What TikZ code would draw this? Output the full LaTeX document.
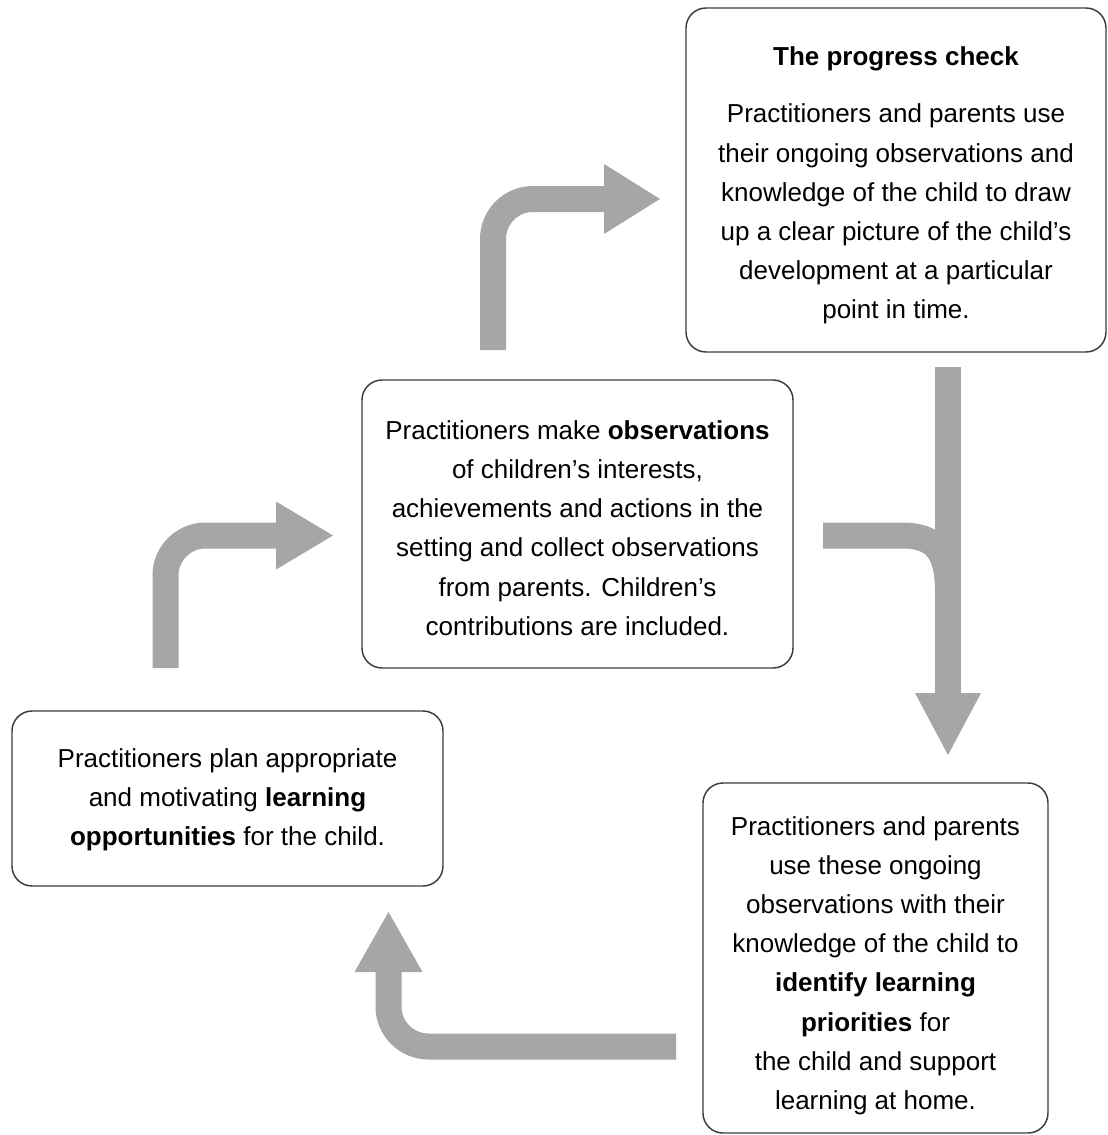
\documentclass[tikz,border=0pt]{standalone}
\usepackage{fontspec}
\setmainfont{Liberation Sans}
\definecolor{arrowgray}{RGB}{166,166,166}
\definecolor{boxline}{RGB}{60,60,60}
\begin{document}
\begin{tikzpicture}[x=0.75pt,y=-0.75pt,
  infobox/.style={draw=boxline, line width=1.1pt, rounded corners=15pt, inner sep=0pt},
  boxtext/.style={align=center, inner sep=0pt, font=\fontsize{19.5pt}{29.4pt}\selectfont},
  shaft/.style={draw=arrowgray, line width=19.5pt, rounded corners=30pt},
  arrowhead/.style={fill=arrowgray, draw=none}]
\useasboundingbox (0,0) rectangle (1107,1135);

% boxes
\node[infobox, minimum width=315pt, minimum height=258pt] (check) at (896,180) {};
\node[boxtext] (checktext) at (896,185.5)
 {\textbf{The progress check}\\[13.5pt]
  Practitioners and parents use\\
  their ongoing observations and\\
  knowledge of the child to draw\\
  up a clear picture of the child’s\\
  development at a particular\\
  point in time.};

\node[infobox, minimum width=323.25pt, minimum height=216pt] (observe) at (577.5,524) {};
\node[boxtext] (observetext) at (577.5,528)
 {Practitioners make \textbf{observations}\\
  of children’s interests,\\
  achievements and actions in the\\
  setting and collect observations\\
  from parents. Children’s\\
  contributions are included.};

\node[infobox, minimum width=323.25pt, minimum height=131.25pt] (plan) at (227.5,798.5) {};
\node[boxtext] (plantext) at (227.5,799.5)
 {Practitioners plan appropriate\\
  and motivating \textbf{learning}\\
  \textbf{opportunities} for the child.};

\node[infobox, minimum width=258.75pt, minimum height=262.5pt] (identify) at (875.5,958) {};
\node[boxtext] (identifytext) at (875.5,965.5)
 {Practitioners and parents\\
  use these ongoing\\
  observations with their\\
  knowledge of the child to\\
  \textbf{identify learning}\\
  \textbf{priorities} for\\
  the child and support\\
  learning at home.};

% arrow 1: observations -> progress check
\coordinate (a1s) at (493,350);
\coordinate (a1e) at (604,199);
\draw[shaft] (a1s) |- (a1e);
\fill[arrowhead] (a1e) ++(0,-35) -- ++(56,35) -- ++(-56,35) -- cycle;

% arrow 2: progress check / observations -> identify
\coordinate (a2s) at (948,367);
\coordinate (a2e) at (948,693);
\coordinate (a2b) at (823,535.5);
\draw[shaft, rounded corners=0pt] (a2s) -- (a2e);
\draw[shaft, rounded corners=0pt] (a2b) -- (902,535.5) .. controls (936,535.5) and (948,552) .. (948,592);
\fill[arrowhead] (a2e) ++(-33,0) -- ++(33,62) -- ++(33,-62) -- cycle;

% arrow 3: identify -> plan
\coordinate (a3s) at (676,1046.5);
\coordinate (a3e) at (388.5,972);
\draw[shaft] (a3s) -| (a3e);
\fill[arrowhead] (a3e) ++(-34,0) -- ++(34,-60) -- ++(34,60) -- cycle;

% arrow 4: plan -> observations
\coordinate (a4s) at (165.5,668);
\coordinate (a4e) at (276,535.5);
\draw[shaft] (a4s) |- (a4e);
\fill[arrowhead] (a4e) ++(0,-34) -- ++(57,34) -- ++(-57,34) -- cycle;
\end{tikzpicture}
\end{document}
